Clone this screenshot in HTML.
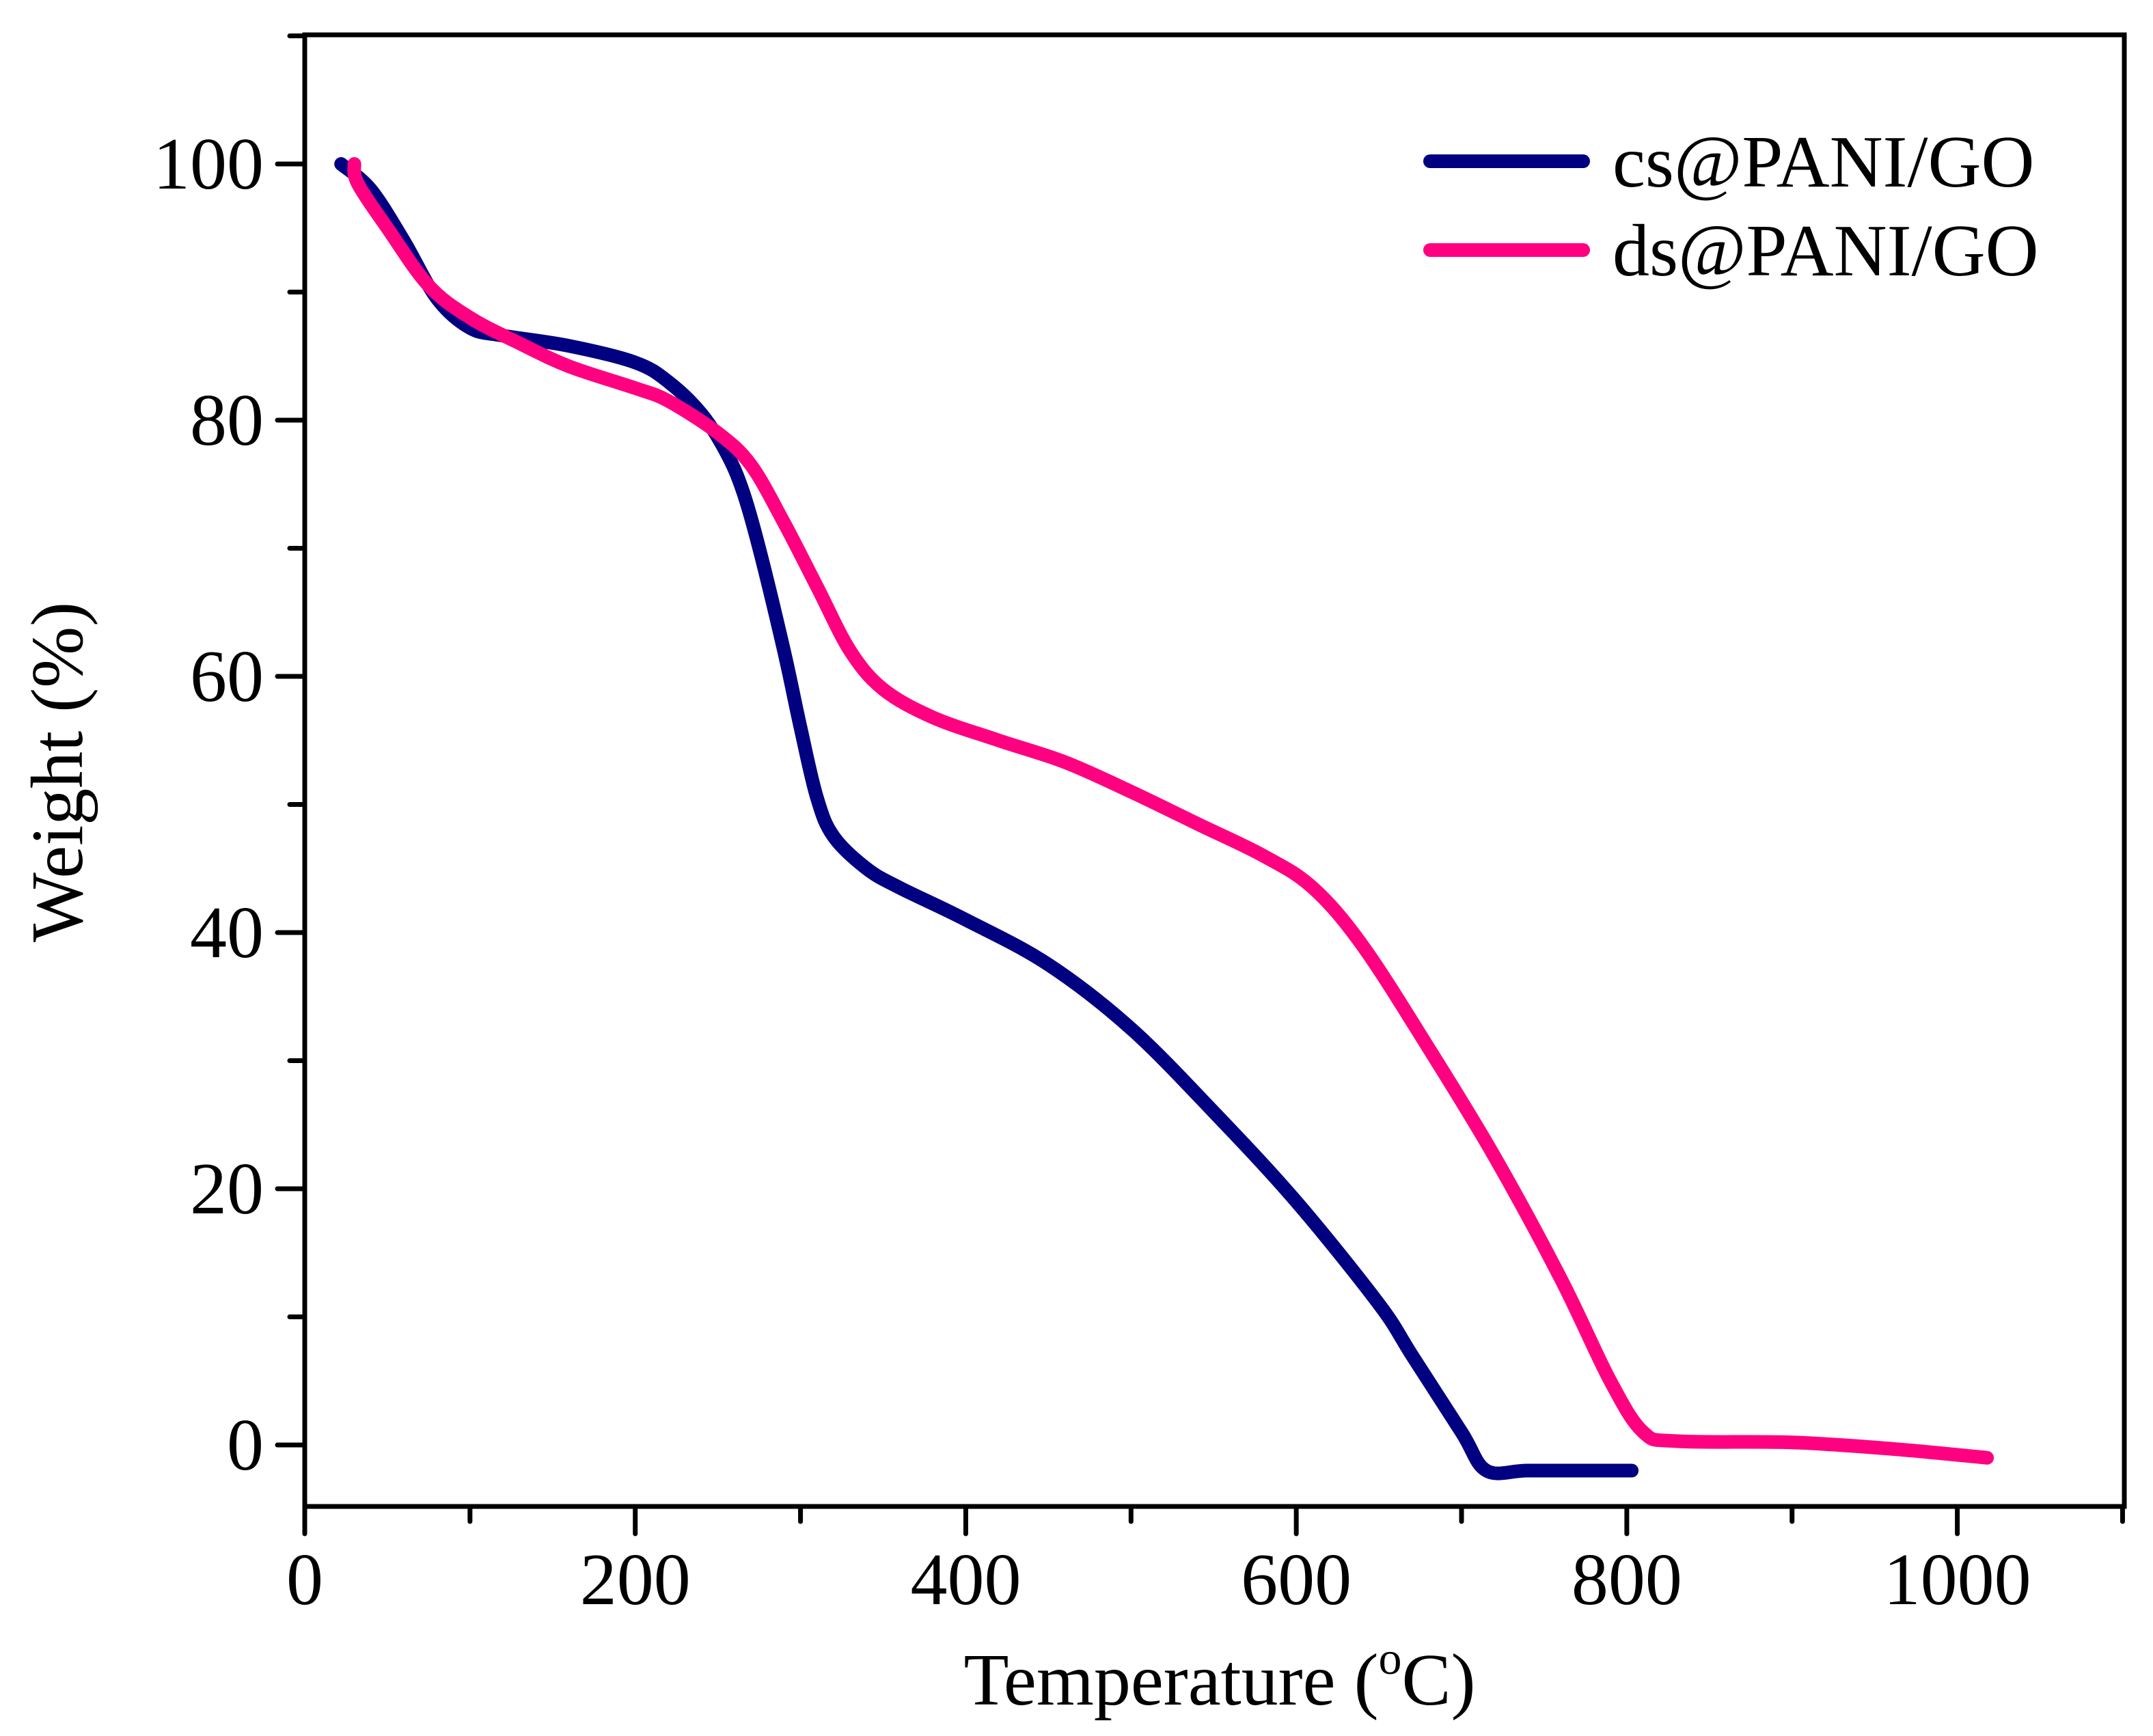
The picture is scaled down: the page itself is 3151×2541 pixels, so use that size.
<!DOCTYPE html>
<html><head><meta charset="utf-8"><style>
html,body{margin:0;padding:0;background:#fff;}
svg{display:block;font-family:"Liberation Serif",serif;}
</style></head><body>
<svg id="chart" width="3151" height="2541" viewBox="0 0 3151 2541">
<g id="axes"></g>
<g id="series"></g>
<g id="legend"></g>
</svg>
<script>
const xTicks=[0,200,400,600,800,1000];
const xMinor=[100,300,500,700,900,1100];
const yTicks=[0,20,40,60,80,100];
const yMinor=[-0.0001,10,30,50,70,90,110];
const csX=[22,40,60,80,100,120,160,200,220,240,255,265,275,290,300,310,320,340,360,400,450,500,550,600,650,670,700,715,740,780,803];
const csY=[100,98,94,89.5,87.2,86.6,85.8,84.5,83,80.5,77.5,74.5,70,62,56,50.5,47.5,45,43.5,41,37.5,32.5,26,19,11,7,1,-2,-2,-2,-2];
const dsX=[30,32,50,75,100,130,160,200,220,250,270,290,310,330,350,380,420,460,500,540,580,610,640,680,720,760,790,810,830,900,960,1018];
const dsY=[100,98.5,95,90.5,88,86,84.2,82.5,81.5,79,76.5,72,67,62,59,56.8,55,53.3,51,48.5,46,43.5,39,31,22.5,13,5,1,0.3,0.2,-0.3,-1];
const L=446,R=3109,T=51,B=2205;
function xs(v){return L+v*2.4186;}
function ys(v){return 2115-v*18.75;}
const NS="http://www.w3.org/2000/svg";
function mk(tag,attrs,parent){const e=document.createElementNS(NS,tag);for(const k in attrs)e.setAttribute(k,attrs[k]);parent.appendChild(e);return e;}
const axes=document.getElementById('axes');
const frame=mk('rect',{x:L,y:T,width:R-L,height:B-T,fill:'none',stroke:'#000','stroke-width':7},axes);


xTicks.forEach(v=>{
 const t=mk('line',{x1:xs(v),x2:xs(v),y1:B,y2:B+40,stroke:'#000','stroke-width':7,'stroke-linecap':'round'},axes);
 
 
 const l=mk('text',{x:xs(v),y:B+143,'text-anchor':'middle','font-size':108},axes);
 l.textContent=v;
 
 
});
xMinor.forEach(v=>{
 const t=mk('line',{x1:xs(v),x2:xs(v),y1:B,y2:B+22,stroke:'#000','stroke-width':7,'stroke-linecap':'round'},axes);
 
 
});
yTicks.forEach(v=>{
 const t=mk('line',{x1:L-40,x2:L,y1:ys(v),y2:ys(v),stroke:'#000','stroke-width':7,'stroke-linecap':'round'},axes);
 
 
 const l=mk('text',{x:L-60,y:ys(v)+36,'text-anchor':'end','font-size':108},axes);
 l.textContent=v;
 
 
});
yMinor.forEach(v=>{
 const t=mk('line',{x1:L-22,x2:L,y1:ys(v),y2:ys(v),stroke:'#000','stroke-width':7,'stroke-linecap':'round'},axes);
 
 
});
const xt=mk('text',{x:1785,y:2495,'text-anchor':'middle','font-size':108},axes);
xt.innerHTML='Temperature (<tspan dy="-45" font-size="68">o</tspan><tspan dy="45">C)</tspan>';


const yt=mk('text',{x:0,y:0,'text-anchor':'middle','font-size':108,transform:'translate(120,1130) rotate(-90)'},axes);
yt.textContent='Weight (%)';


const ser=document.getElementById('series');
function draw(X,Y,color,name){
 const P=X.map((v,i)=>[xs(v),ys(Y[i])]);
 let d='M'+P[0][0].toFixed(1)+','+P[0][1].toFixed(1);
 for(let i=0;i<P.length-1;i++){
  const p0=P[Math.max(0,i-1)],p1=P[i],p2=P[i+1],p3=P[Math.min(P.length-1,i+2)];
  const c1=[p1[0]+(p2[0]-p0[0])/6,p1[1]+(p2[1]-p0[1])/6];
  const c2=[p2[0]-(p3[0]-p1[0])/6,p2[1]-(p3[1]-p1[1])/6];
  d+='C'+c1[0].toFixed(1)+','+c1[1].toFixed(1)+' '+c2[0].toFixed(1)+','+c2[1].toFixed(1)+' '+p2[0].toFixed(1)+','+p2[1].toFixed(1);
 }
 const p=mk('path',{d:d,fill:'none',stroke:color,'stroke-width':20,'stroke-linejoin':'round','stroke-linecap':'round'},ser);
 
 
}
draw(csX,csY,'#000080','cs-pani-go-line');
draw(dsX,dsY,'#ff0080','ds-pani-go-line');
const lg=document.getElementById('legend');
[['cs@PANI/GO','#000080',236],['ds@PANI/GO','#ff0080',366]].forEach(([txt,c,y])=>{
 const l=mk('line',{x1:2093,x2:2317,y1:y,y2:y,stroke:c,'stroke-width':20,'stroke-linecap':'round'},lg);
 
 
 const t=mk('text',{x:2360,y:y+37,'font-size':108},lg);
 t.textContent=txt;
 
 
});
</script>
</body></html>
